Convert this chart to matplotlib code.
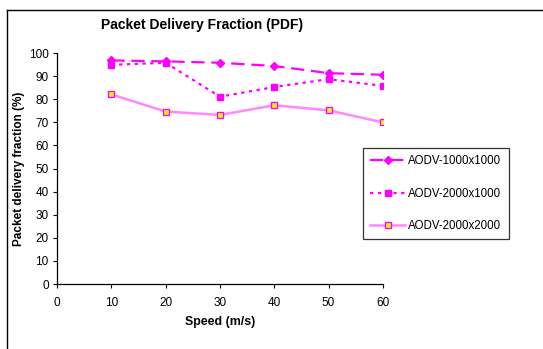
import matplotlib
matplotlib.use("Agg")
import matplotlib.pyplot as plt
from matplotlib.lines import Line2D

plt.rcParams['font.family'] = ['Liberation Sans', 'DejaVu Sans']

speed = [10, 20, 30, 40, 50, 60]
pdf_1000x1000 = [96.8, 96.4, 95.8, 94.4, 91.3, 90.6]
pdf_2000x1000 = [94.9, 95.8, 81.1, 85.3, 88.7, 85.8]
pdf_2000x2000 = [82.1, 74.7, 73.2, 77.4, 75.2, 70.0]
labels = ['AODV-1000x1000', 'AODV-2000x1000', 'AODV-2000x2000']

fig = plt.figure(figsize=(5.43, 3.49), dpi=100)
ax = fig.add_axes([0.105, 0.186, 0.600, 0.662])

ax.plot(speed, pdf_1000x1000, color='#ff00ff', linestyle=(0, (6, 3)), linewidth=1.6,
        marker='D', markersize=4.5, markerfacecolor='#ff00ff', markeredgecolor='#ff00ff',
        label=labels[0])
ax.plot(speed, pdf_2000x1000, color='#ff00ff', linestyle=(0, (1.5, 2)), linewidth=1.6,
        marker='s', markersize=5, markerfacecolor='#ff00ff', markeredgecolor='#ff00ff',
        label=labels[1])
ax.plot(speed, pdf_2000x2000, color='#ff88ff', linestyle='-', linewidth=1.8,
        marker='s', markersize=5, markerfacecolor='#ffff00', markeredgecolor='#ff00ff',
        markeredgewidth=1.0, label=labels[2])

ax.set_xlim(0, 60)
ax.set_ylim(0, 100)
ax.set_xticks(range(0, 61, 10))
ax.set_yticks(range(0, 101, 10))
ax.tick_params(direction='out', length=3, width=0.8, labelsize=8.5)
ax.tick_params(axis='x', pad=6.5)
ax.tick_params(axis='y', pad=3)
for s in ['top', 'right']:
    ax.spines[s].set_visible(False)
for s in ['left', 'bottom']:
    ax.spines[s].set_linewidth(0.9)

ax.set_xlabel('Speed (m/s)', fontsize=8.9, fontweight='bold', labelpad=5)
ax.set_ylabel('Packet delivery fraction (%)', fontsize=8.5, fontweight='bold', labelpad=2.5)
fig.text(0.373, 0.928, 'Packet Delivery Fraction (PDF)', fontsize=10, fontweight='bold',
         ha='center', va='center')

leg = fig.legend(loc='upper left', bbox_to_anchor=(0.668, 0.576), fontsize=8.3,
                 frameon=True, fancybox=False, edgecolor='black', handlelength=3.0,
                 labelspacing=1.75, borderpad=0.65, handletextpad=0.3, borderaxespad=0)
leg.get_frame().set_linewidth(0.9)

# outer chart border (left and top edges visible)
fig.add_artist(Line2D([0.013, 0.013], [0.0, 0.971], transform=fig.transFigure,
                      color='black', linewidth=1.0))
fig.add_artist(Line2D([0.013, 1.0], [0.971, 0.971], transform=fig.transFigure,
                      color='black', linewidth=1.0))

fig.savefig('out.png', dpi=100)
